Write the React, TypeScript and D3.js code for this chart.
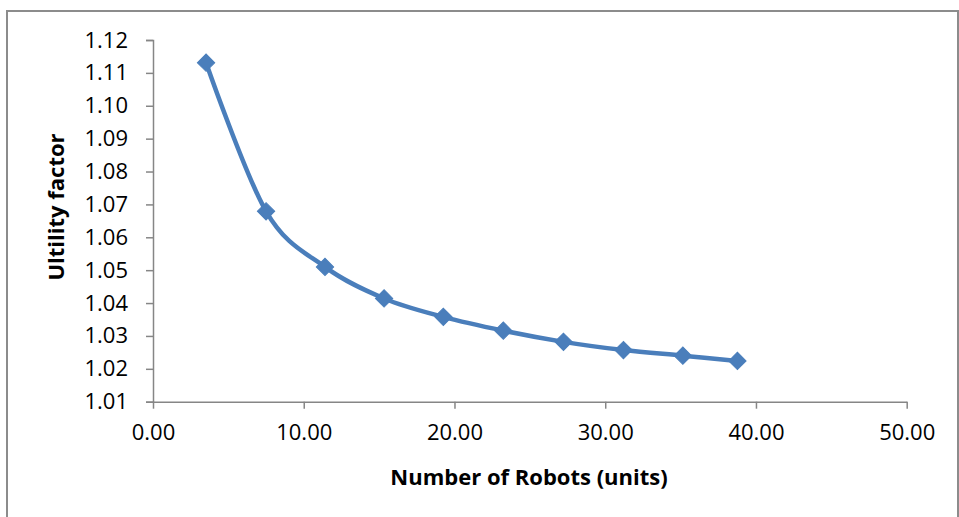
import React, { useEffect, useRef } from "react";
import * as d3 from "d3";

const robots = [3.52, 7.5, 11.41, 15.33, 19.26, 23.24, 27.23, 31.21, 35.15, 38.77];
const utility = [1.1131, 1.0679, 1.051, 1.0414, 1.0358, 1.0316, 1.0282, 1.0257, 1.024, 1.0224];
const xTicks = [0, 10, 20, 30, 40, 50];
const yTicks = [1.01, 1.02, 1.03, 1.04, 1.05, 1.06, 1.07, 1.08, 1.09, 1.1, 1.11, 1.12];

const W = 959;
const H = 517;
const FONT = "'Open Sans', 'Liberation Sans', sans-serif";
const BLUE = "#4A7EBB";
const GRAY = "#868686";

export default function App() {
  const ref = useRef<SVGSVGElement | null>(null);

  useEffect(() => {
    const svg = d3.select(ref.current);
    svg.selectAll("*").remove();

    svg
      .append("rect")
      .attr("x", 7)
      .attr("y", 11)
      .attr("width", 951)
      .attr("height", 530)
      .attr("fill", "white")
      .attr("stroke", "#8c8c8c")
      .attr("stroke-width", 2);

    const x = d3.scaleLinear().domain([0, 50]).range([153, 906.7]);
    const y = d3.scaleLinear().domain([1.01, 1.12]).range([401.7, 40]);

    const yAxis = svg
      .append("g")
      .attr("transform", `translate(${x(0)},0)`)
      .call(
        d3
          .axisLeft(y)
          .tickValues(yTicks)
          .tickSize(7)
          .tickPadding(18)
          .tickFormat((d) => d3.format(".2f")(d as number))
      );
    yAxis.selectAll("path, line").attr("stroke", GRAY).attr("stroke-width", 1.5);
    yAxis
      .selectAll("text")
      .attr("font-family", FONT)
      .attr("font-size", 22)
      .attr("fill", "#000");

    const xAxis = svg
      .append("g")
      .attr("transform", `translate(0,${y(1.01)})`)
      .call(
        d3
          .axisBottom(x)
          .tickValues(xTicks)
          .tickSize(7)
          .tickSizeOuter(0)
          .tickPadding(16)
          .tickFormat((d) => d3.format(".2f")(d as number))
      );
    xAxis.selectAll("path, line").attr("stroke", GRAY).attr("stroke-width", 1.5);
    xAxis
      .selectAll("text")
      .attr("font-family", FONT)
      .attr("font-size", 22)
      .attr("fill", "#000");

    const pts: [number, number][] = robots.map((r, i) => [x(r), y(utility[i])]);
    const line = d3.line().curve(d3.curveCardinal.tension(0));
    svg
      .append("path")
      .attr("d", line(pts))
      .attr("fill", "none")
      .attr("stroke", BLUE)
      .attr("stroke-width", 4.5)
      .attr("stroke-linejoin", "round");

    const sym = d3.symbol().type(d3.symbolSquare).size(150);
    svg
      .append("g")
      .selectAll("path")
      .data(pts)
      .join("path")
      .attr("d", sym() as string)
      .attr("transform", (d) => `translate(${d[0]},${d[1]}) rotate(45)`)
      .attr("fill", BLUE)
      .attr("stroke", BLUE)
      .attr("stroke-width", 1);

    svg
      .append("text")
      .attr("x", 529)
      .attr("y", 476)
      .attr("text-anchor", "middle")
      .attr("dominant-baseline", "central")
      .attr("font-family", FONT)
      .attr("font-weight", "bold")
      .attr("font-size", 22)
      .attr("fill", "#000")
      .text("Number of Robots (units)");

    svg
      .append("text")
      .attr("transform", `translate(55,207) rotate(-90)`)
      .attr("text-anchor", "middle")
      .attr("dominant-baseline", "central")
      .attr("font-family", FONT)
      .attr("font-weight", "bold")
      .attr("font-size", 22)
      .attr("fill", "#000")
      .text("Ultility factor");
  }, []);

  return (
    <svg
      ref={ref}
      width={W}
      height={H}
      style={{ position: "absolute", left: 0, top: 0, background: "white" }}
    />
  );
}
